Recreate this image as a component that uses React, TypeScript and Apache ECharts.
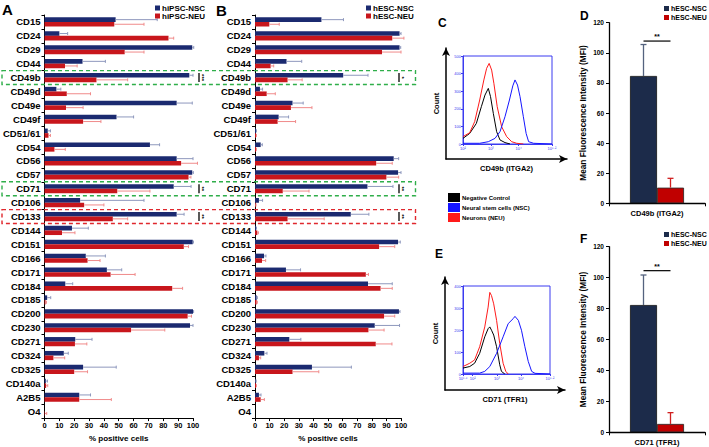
import React, { useEffect, useRef } from 'react';
import * as echarts from 'echarts';

const categories = ['CD15','CD24','CD29','CD44','CD49b','CD49d','CD49e','CD49f','CD51/61','CD54','CD56','CD57','CD71','CD106','CD133','CD144','CD151','CD166','CD171','CD184','CD185','CD200','CD230','CD271','CD324','CD325','CD140a','A2B5','O4'];

const hipscNscMean = [47.9, 10, 99.5, 25.6, 97.5, 8, 89, 48.5, 2.2, 71, 89, 99.5, 87, 24, 89, 18.5, 99.8, 27.8, 42, 14, 1.8, 100, 98, 20.7, 13, 26, 0.9, 23.4, 0];
const hipscNscSd = [28, 5.6, 1, 15.4, 2.5, 3, 10.5, 11.5, 1.8, 6.5, 11, 0.7, 11.7, 43, 5, 11, 0.5, 13.2, 10, 5, 2.4, 0.4, 2, 11.3, 3, 22.3, 1.1, 7.6, 0];
const hipscNeuMean = [47, 83.5, 54, 13.8, 35, 15, 14.5, 26, 2.7, 6.7, 92, 97, 49, 26.7, 46, 11.8, 93.8, 29, 44.5, 86, 0.7, 96.4, 58.3, 20.5, 6, 20, 1.1, 23.4, 0.3];
const hipscNeuSd = [20, 3.5, 13, 8.2, 21, 16, 11.5, 12, 1.3, 7.3, 11, 1.6, 22, 13.3, 10, 8.7, 3.2, 8.4, 16.5, 7, 0.6, 2.6, 22.7, 8, 7.6, 9, 1.1, 21.6, 1.2];

const hescNscMean = [45.5, 99, 99, 21.6, 60.4, 3.4, 25.7, 16.2, 0.7, 3.9, 95, 98, 77, 2.7, 65.6, 0.7, 98, 6.2, 21.2, 77.4, 1.1, 98.6, 82, 23.5, 6.4, 39, 0.5, 2.7, 0];
const hescNscSd = [15.1, 1, 0.8, 10.4, 17, 1.8, 7.3, 6.8, 0.3, 1.1, 3.4, 2, 17.5, 2.5, 12.4, 0.3, 1.5, 1.3, 10, 16.6, 0.5, 0.7, 17, 7.9, 1.8, 27, 0.3, 1.4, 0];
const hescNeuMean = [9.8, 94, 87, 10.7, 22.3, 8, 24.6, 15.5, 0.7, 0.7, 83, 90, 19, 0.5, 22.3, 1.6, 85, 4.8, 75.9, 86, 1.1, 88.4, 77.7, 82.7, 2.7, 25.7, 0.7, 3.9, 0];
const hescNeuSd = [6.8, 8, 13, 2.1, 10, 5.9, 14.4, 12.3, 0.3, 0.3, 11, 8.4, 18, 0.2, 25.1, 0.7, 10.7, 2.5, 1.8, 8, 0.5, 7.3, 10.7, 11.1, 1.2, 18, 0.3, 2.5, 0];

const sigA = [['CD49b', '***'], ['CD71', '**'], ['CD133', '**']];
const sigB = [['CD49b', '*'], ['CD71', '**'], ['CD133', '**']];
const greenBoxes = ['CD49b', 'CD71'];
const redBoxes = ['CD133'];

const mfiCatD = ['CD49b (ITGA2)'];
const mfiNscD = [84.6];
const mfiNscSdD = [20.9];
const mfiNeuD = [10.4];
const mfiNeuSdD = [6.2];
const sigLevelD = 107.8;

const mfiCatF = ['CD71 (TFR1)'];
const mfiNscF = [82.3];
const mfiNscSdF = [19.4];
const mfiNeuF = [5.4];
const mfiNeuSdF = [7.3];
const sigLevelF = 104.5;

// flow histograms: [log10 intensity, count]
const cNeg = [[2.0,32],[2.24,60],[2.48,117],[2.66,212],[2.79,278],[2.91,316],[2.99,269],[3.09,174],[3.21,70],[3.33,23],[3.51,8],[3.69,0]];
const cNeu = [[2.0,42],[2.24,64],[2.42,127],[2.6,250],[2.75,364],[2.85,430],[2.94,458],[3.03,420],[3.11,345],[3.23,212],[3.39,98],[3.57,42],[3.75,13],[3.93,4],[4.17,0]];
const cNsc = [[2.0,4],[2.6,4],[2.91,13],[3.15,32],[3.33,70],[3.51,155],[3.67,250],[3.79,330],[3.87,364],[3.96,335],[4.05,269],[4.17,155],[4.27,60],[4.36,13],[4.54,4],[5.2,0]];
const eNeg = [[1.6,27],[1.88,34],[2.08,49],[2.29,94],[2.5,169],[2.64,206],[2.71,214],[2.78,199],[2.87,177],[2.99,124],[3.12,42],[3.19,12],[3.33,0]];
const eNeu = [[1.6,34],[1.88,49],[2.08,64],[2.29,124],[2.5,214],[2.64,304],[2.71,371],[2.78,356],[2.87,319],[2.99,244],[3.12,139],[3.26,49],[3.37,12],[3.47,0]];
const eNsc = [[1.6,4],[2.29,4],[2.5,12],[2.71,34],[2.99,94],[3.26,169],[3.47,229],[3.68,252],[3.75,262],[3.89,244],[4.02,199],[4.16,124],[4.3,57],[4.44,12],[4.58,3],[5.2,0]];
const cTickVals = [2, 3, 4, 5.2];
const eTickVals = [1.6, 2, 3, 4, 5.2];

const FONT = '"Liberation Sans", Arial, Helvetica, sans-serif';
const NAVY = '#1b2a70';
const RED = '#c8161c';
const NAVY_ERR = '#8e98bd';
const RED_ERR = '#f08a8a';
const NAVY_D = '#1c2b4a';
const RED_D = '#c00000';
const BLUE_AX = '#3b3bf0';
const BAR_H = 4.6;
const BAR_W_D = 27;

const sup: Record<string, string> = { '0': '⁰', '1': '¹', '2': '²', '3': '³', '4': '⁴', '5': '⁵', '6': '⁶', '.': '·' };
const logLabel = (v: number) => '10' + String(v).split('').map((c) => sup[c] || c).join('');

function hErr(name: string, ax: number, means: number[], sds: number[], sign: number, color: string) {
  return {
    type: 'custom', name: name + '-err', xAxisIndex: ax, yAxisIndex: ax, clip: false, silent: true, z: 3,
    data: means.map((m, i) => [m, i, m + sds[i]]),
    encode: { x: [0, 2], y: 1 },
    renderItem: (params: any, api: any) => {
      const m = api.value(0), cat = api.value(1), e = api.value(2);
      if (!(e > m)) return null;
      const p0 = api.coord([m, cat]);
      const p1 = api.coord([e, cat]);
      const y = p0[1] + sign * BAR_H / 2;
      return {
        type: 'group', children: [
          { type: 'line', shape: { x1: p0[0], y1: y, x2: p1[0], y2: y }, style: { stroke: color, lineWidth: 1 } },
          { type: 'line', shape: { x1: p1[0], y1: y - 1.5, x2: p1[0], y2: y + 1.5 }, style: { stroke: color, lineWidth: 1 } },
        ],
      };
    },
  };
}

function vErr(ax: number, means: number[], sds: number[], sign: number, color: string) {
  return {
    type: 'custom', xAxisIndex: ax, yAxisIndex: ax, clip: false, silent: true, z: 3,
    data: means.map((m, i) => [i, m, m + sds[i]]),
    encode: { x: 0, y: [1, 2] },
    renderItem: (params: any, api: any) => {
      const c = api.value(0), m = api.value(1), e = api.value(2);
      const p0 = api.coord([c, m]);
      const p1 = api.coord([c, e]);
      const x = p0[0] + sign * BAR_W_D / 2;
      return {
        type: 'group', children: [
          { type: 'line', shape: { x1: x, y1: p0[1], x2: x, y2: p1[1] }, style: { stroke: color, lineWidth: 1.3 } },
          { type: 'line', shape: { x1: x - 3, y1: p1[1], x2: x + 3, y2: p1[1] }, style: { stroke: color, lineWidth: 1.3 } },
        ],
      };
    },
  };
}

const blk = '#000';
const boldTxt = (size: number, color = blk) => ({ fontSize: size, fontWeight: 'bold' as const, color, fontFamily: FONT });

function pctAxis(grid: number) {
  return {
    gridIndex: grid, type: 'value', min: 0, max: 100, interval: 10,
    axisLine: { show: true, lineStyle: { color: blk, width: 1 } },
    axisTick: { show: true, length: 3, lineStyle: { color: blk } },
    axisLabel: { ...boldTxt(7.5), margin: 3 },
    splitLine: { show: false },
    name: '% positive cells', nameLocation: 'middle', nameGap: 12,
    nameTextStyle: boldTxt(8),
  };
}
function catAxis(grid: number) {
  return {
    gridIndex: grid, type: 'category', data: categories, inverse: true,
    axisLine: { show: true, lineStyle: { color: blk, width: 1 } },
    axisTick: { show: true, length: 3, lineStyle: { color: blk } },
    axisLabel: { ...boldTxt(9.5), margin: 4, interval: 0 },
  };
}
function histX(grid: number, min: number, vals: number[]) {
  return {
    gridIndex: grid, type: 'value', min, max: 5.2,
    axisLine: { show: true, lineStyle: { color: BLUE_AX } },
    axisTick: { show: true, length: 2, lineStyle: { color: BLUE_AX }, customValues: vals },
    axisLabel: { fontSize: 4, color: BLUE_AX, margin: 2, customValues: vals, formatter: (v: number) => logLabel(v) },
    splitLine: { show: false },
  };
}
function histY(grid: number, max: number) {
  return {
    gridIndex: grid, type: 'value', min: 0, max, interval: 100,
    axisLine: { show: true, lineStyle: { color: BLUE_AX } },
    axisTick: { show: true, length: 2, lineStyle: { color: BLUE_AX } },
    axisLabel: { fontSize: 4, color: BLUE_AX, margin: 2 },
    splitLine: { show: false },
  };
}
function mfiX(grid: number, cats: string[]) {
  return {
    gridIndex: grid, type: 'category', data: cats,
    axisLine: { show: true, lineStyle: { color: blk, width: 1.3 } },
    axisTick: { show: true, length: 3, lineStyle: { color: blk } },
    axisLabel: { ...boldTxt(7.5), margin: 6 },
  };
}
function mfiY(grid: number) {
  return {
    gridIndex: grid, type: 'value', min: 0, max: 120, interval: 20,
    axisLine: { show: true, lineStyle: { color: blk, width: 1.3 } },
    axisTick: { show: true, length: 3, lineStyle: { color: blk } },
    axisLabel: { ...boldTxt(6.5), margin: 5 },
    splitLine: { show: false },
    name: 'Mean Fluorescence Intensity (MFI)', nameLocation: 'middle', nameGap: 22,
    nameTextStyle: boldTxt(8.3),
  };
}
function outerX(grid: number, name: string) {
  return {
    gridIndex: grid, type: 'value', min: 0, max: 1,
    axisLine: { show: true, symbol: ['none', 'arrow'], symbolSize: [6, 8], lineStyle: { color: blk, width: 1.5 } },
    axisTick: { show: false }, axisLabel: { show: false }, splitLine: { show: false },
    name, nameLocation: 'middle', nameGap: 5, nameTextStyle: boldTxt(7.5),
  };
}
function outerY(grid: number) {
  return {
    gridIndex: grid, type: 'value', min: 0, max: 1,
    axisLine: { show: true, symbol: ['none', 'arrow'], symbolSize: [6, 8], lineStyle: { color: blk, width: 1.5 } },
    axisTick: { show: false }, axisLabel: { show: false }, splitLine: { show: false },
    name: 'Count', nameLocation: 'middle', nameGap: 6, nameTextStyle: boldTxt(7.5),
  };
}
function histLine(name: string, ax: number, data: number[][], color: string) {
  return {
    type: 'line', name, xAxisIndex: ax, yAxisIndex: ax, data, showSymbol: false, symbol: 'none',
    lineStyle: { color, width: 1 }, itemStyle: { color }, silent: true,
  };
}
function legendBox(names: string[], colors: string[], left: number, top: number, size: number, gap: number) {
  return {
    data: names.map((n, i) => ({ name: n, itemStyle: { color: colors[i] } })),
    left, top, orient: 'vertical', icon: 'rect', itemWidth: 5, itemHeight: 5, itemGap: gap, padding: 0,
    selectedMode: false, textStyle: { ...boldTxt(size), padding: [0, 0, 0, -3] },
  };
}

export default function App() {
  const ref = useRef<HTMLDivElement>(null);
  useEffect(() => {
    const chart = echarts.init(ref.current!, null, { renderer: 'svg', width: 709, height: 447 });
    const option: any = {
      animation: false,
      backgroundColor: '#fff',
      textStyle: { fontFamily: FONT },
      grid: [
        { left: 43, top: 15, width: 150, height: 410 },
        { left: 255, top: 15, width: 146, height: 410 },
        { left: 463, top: 56, width: 89, height: 88, show: true, borderColor: BLUE_AX, borderWidth: 1, backgroundColor: 'transparent' },
        { left: 463, top: 286, width: 87, height: 88, show: true, borderColor: BLUE_AX, borderWidth: 1, backgroundColor: 'transparent' },
        { left: 609, top: 22.7, width: 96, height: 180.6 },
        { left: 609, top: 246.7, width: 96, height: 185.6 },
        { left: 446, top: 48, width: 121, height: 111 },
        { left: 445, top: 277, width: 120, height: 113 },
      ],
      xAxis: [pctAxis(0), pctAxis(1), histX(2, 2, cTickVals), histX(3, 1.6, eTickVals), mfiX(4, mfiCatD), mfiX(5, mfiCatF), outerX(6, 'CD49b (ITGA2)'), outerX(7, 'CD71 (TFR1)')],
      yAxis: [catAxis(0), catAxis(1), histY(2, 500), histY(3, 400), mfiY(4), mfiY(5), outerY(6), outerY(7)],
      legend: [
        legendBox(['hiPSC-NSC', 'hiPSC-NEU'], [NAVY, RED], 155, 4, 8, 0),
        legendBox(['hESC-NSC', 'hESC-NEU'], [NAVY, RED], 366, 4, 8, 0),
        legendBox(['hESC-NSC', 'hESC-NEU'], [NAVY_D, RED_D], 664, 5, 7, 2),
        legendBox(['hESC-NSC', 'hESC-NEU'], [NAVY_D, RED_D], 664, 231, 7, 2),
        {
          data: [{ name: 'Negative Control', itemStyle: { color: '#000' } }, { name: 'Neural stem cells (NSC)', itemStyle: { color: '#1515ff' } }, { name: 'Neurons (NEU)', itemStyle: { color: '#ff1a1a' } }],
          left: 448, top: 193, orient: 'vertical', icon: 'rect', itemWidth: 12, itemHeight: 9, itemGap: 1, padding: 0,
          selectedMode: false, textStyle: { ...boldTxt(6), padding: [0, 0, 0, -3] },
        },
      ],
      series: [
        { type: 'bar', name: 'hiPSC-NSC', xAxisIndex: 0, yAxisIndex: 0, data: hipscNscMean, barWidth: BAR_H, barGap: '0%', itemStyle: { color: NAVY } },
        { type: 'bar', name: 'hiPSC-NEU', xAxisIndex: 0, yAxisIndex: 0, data: hipscNeuMean, barWidth: BAR_H, barGap: '0%', itemStyle: { color: RED } },
        hErr('hiPSC-NSC', 0, hipscNscMean, hipscNscSd, -1, NAVY_ERR),
        hErr('hiPSC-NEU', 0, hipscNeuMean, hipscNeuSd, 1, RED_ERR),
        { type: 'bar', name: 'hESC-NSC', xAxisIndex: 1, yAxisIndex: 1, data: hescNscMean, barWidth: BAR_H, barGap: '0%', itemStyle: { color: NAVY } },
        { type: 'bar', name: 'hESC-NEU', xAxisIndex: 1, yAxisIndex: 1, data: hescNeuMean, barWidth: BAR_H, barGap: '0%', itemStyle: { color: RED } },
        hErr('hESC-NSC', 1, hescNscMean, hescNscSd, -1, NAVY_ERR),
        hErr('hESC-NEU', 1, hescNeuMean, hescNeuSd, 1, RED_ERR),
        { type: 'bar', name: 'hESC-NSC', xAxisIndex: 4, yAxisIndex: 4, data: mfiNscD, barWidth: BAR_W_D, barGap: '0%', itemStyle: { color: NAVY_D, borderColor: '#111', borderWidth: 0.8 } },
        { type: 'bar', name: 'hESC-NEU', xAxisIndex: 4, yAxisIndex: 4, data: mfiNeuD, barWidth: BAR_W_D, barGap: '0%', itemStyle: { color: RED_D, borderColor: '#222', borderWidth: 0.8 } },
        vErr(4, mfiNscD, mfiNscSdD, -1, '#55637f'),
        vErr(4, mfiNeuD, mfiNeuSdD, 1, '#d02020'),
        { type: 'bar', name: 'hESC-NSC', xAxisIndex: 5, yAxisIndex: 5, data: mfiNscF, barWidth: BAR_W_D, barGap: '0%', itemStyle: { color: NAVY_D, borderColor: '#111', borderWidth: 0.8 } },
        { type: 'bar', name: 'hESC-NEU', xAxisIndex: 5, yAxisIndex: 5, data: mfiNeuF, barWidth: BAR_W_D, barGap: '0%', itemStyle: { color: RED_D, borderColor: '#222', borderWidth: 0.8 } },
        vErr(5, mfiNscF, mfiNscSdF, -1, '#55637f'),
        vErr(5, mfiNeuF, mfiNeuSdF, 1, '#d02020'),
        histLine('Negative Control', 2, cNeg, '#000'),
        histLine('Neurons (NEU)', 2, cNeu, '#ff1a1a'),
        histLine('Neural stem cells (NSC)', 2, cNsc, '#1515ff'),
        histLine('Negative Control', 3, eNeg, '#000'),
        histLine('Neurons (NEU)', 3, eNeu, '#ff1a1a'),
        histLine('Neural stem cells (NSC)', 3, eNsc, '#1515ff'),
      ],
    };
    chart.setOption(option);

    const g: any[] = [];
    const yOf = (ax: number, c: string) => chart.convertToPixel({ yAxisIndex: ax } as any, c) as number;
    const xOf = (ax: number, v: any) => chart.convertToPixel({ xAxisIndex: ax } as any, v) as number;
    const band = yOf(0, categories[1]) - yOf(0, categories[0]);
    const boxRight = xOf(1, 100) + 14.5;
    const addBox = (c: string, color: string) => {
      const cy = yOf(0, c);
      g.push({ type: 'rect', shape: { x: 2, y: cy - band / 2, width: boxRight - 2, height: band }, style: { fill: 'none', stroke: color, lineWidth: 1.4, lineDash: [4, 3] }, z: 10 });
    };
    greenBoxes.forEach((c) => addBox(c, '#2fae4a'));
    redBoxes.forEach((c) => addBox(c, '#e0282e'));
    const addSig = (ax: number, list: string[][], dx: number) => {
      const x = xOf(ax, 100) + dx;
      list.forEach(([c, s]) => {
        const cy = yOf(ax, c);
        g.push({ type: 'line', shape: { x1: x, y1: cy - 4.5, x2: x, y2: cy + 4.5 }, style: { stroke: '#000', lineWidth: 1.3 }, z: 10 });
        g.push({ type: 'text', x: x + 3.2, y: cy, rotation: -Math.PI / 2, style: { text: s, fontSize: 6, fontWeight: 'bold', fill: '#000', align: 'center', verticalAlign: 'middle', fontFamily: FONT }, z: 10 });
      });
    };
    addSig(0, sigA, 6);
    addSig(1, sigB, -2);
    const addMfiSig = (ax: number, cat: string, lvl: number) => {
      const cx = xOf(ax, cat);
      const y = chart.convertToPixel({ yAxisIndex: ax } as any, lvl) as number;
      g.push({ type: 'line', shape: { x1: cx - BAR_W_D / 2, y1: y, x2: cx + BAR_W_D / 2, y2: y }, style: { stroke: '#000', lineWidth: 1.2 }, z: 10 });
      g.push({ type: 'text', x: cx, y: y - 1, style: { text: '**', fontSize: 7, fontWeight: 'bold', fill: '#000', align: 'center', verticalAlign: 'bottom', fontFamily: FONT }, z: 10 });
    };
    addMfiSig(4, mfiCatD[0], sigLevelD);
    addMfiSig(5, mfiCatF[0], sigLevelF);
    const letter = (t: string, x: number, y: number, s: number) =>
      g.push({ type: 'text', x, y, style: { text: t, fontSize: s, fontWeight: 'bold', fill: '#000', fontFamily: FONT, verticalAlign: 'top' }, z: 10 });
    letter('A', 2, 2, 15);
    letter('B', 216, 3, 15);
    letter('C', 438, 17, 12);
    letter('D', 580, 10, 12);
    letter('E', 435, 248, 12);
    letter('F', 580, 233, 12);
    chart.setOption({ graphic: g });

    return () => chart.dispose();
  }, []);
  return <div ref={ref} style={{ position: 'absolute', left: 0, top: 0, width: 709, height: 447, background: '#fff' }} />;
}
